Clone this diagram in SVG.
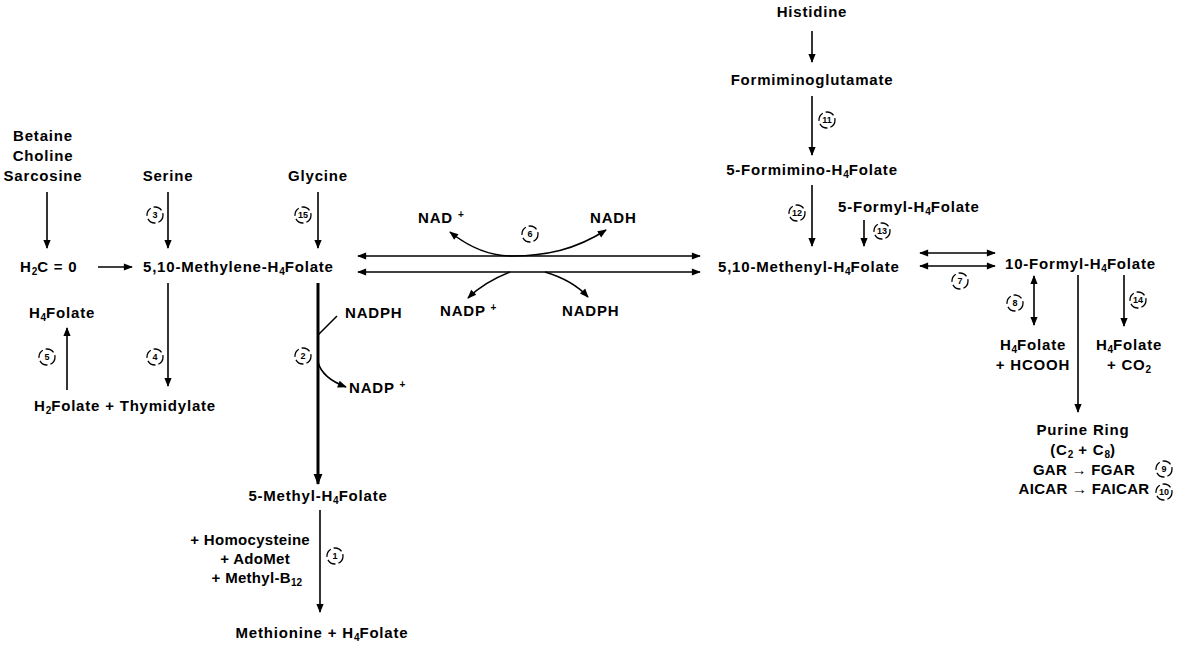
<svg xmlns="http://www.w3.org/2000/svg" width="1178" height="648" viewBox="0 0 1178 648">
<defs>
<marker id="ah" viewBox="0 0 10 10" refX="9" refY="5" markerWidth="10" markerHeight="9" markerUnits="userSpaceOnUse" orient="auto-start-reverse">
<path d="M0,1 L10,5 L0,9 Z" fill="#000"/>
</marker>
<marker id="ahb" viewBox="0 0 10 10" refX="9" refY="5" markerWidth="12" markerHeight="11" markerUnits="userSpaceOnUse" orient="auto-start-reverse">
<path d="M0,1 L10,5 L0,9 Z" fill="#000"/>
</marker>
</defs>
<style>
text{font-family:"Liberation Sans",Arial,sans-serif;font-weight:bold;font-size:15px;letter-spacing:0.8px;fill:#000}
.m{text-anchor:middle}
.e{text-anchor:end}
.t{letter-spacing:0.3px}
.s{font-size:10px;letter-spacing:0}
.c{font-size:9px;letter-spacing:0;text-anchor:middle}
.cir{fill:none;stroke:#000;stroke-width:1.3;stroke-dasharray:9 3}
.ln{fill:none;stroke:#000;stroke-width:1.6}
.tk{fill:none;stroke:#000;stroke-width:3}
</style>
<rect width="1178" height="648" fill="#fff"/>

<g id="connectors">
<line class="ln" x1="47" y1="192" x2="47" y2="248" marker-end="url(#ah)"/>
<line class="ln" x1="168" y1="192" x2="168" y2="248" marker-end="url(#ah)"/>
<line class="ln" x1="318" y1="192" x2="318" y2="248" marker-end="url(#ah)"/>
<line class="ln" x1="98" y1="267" x2="132" y2="267" marker-end="url(#ah)"/>
<line class="ln" x1="168" y1="283" x2="168" y2="386" marker-end="url(#ah)"/>
<line class="ln" x1="67" y1="390" x2="67" y2="328" marker-end="url(#ah)"/>
<line class="tk" x1="318" y1="283" x2="318" y2="484" marker-end="url(#ahb)"/>
<line class="ln" x1="318" y1="335" x2="337" y2="316"/>
<path class="ln" d="M318,362 Q322,378 346,387" marker-end="url(#ah)"/>
<line class="ln" x1="320" y1="510" x2="320" y2="612" marker-end="url(#ah)"/>
<line class="ln" x1="358" y1="256" x2="700" y2="256" marker-start="url(#ah)" marker-end="url(#ah)"/>
<line class="ln" x1="358" y1="272" x2="700" y2="272" marker-start="url(#ah)" marker-end="url(#ah)"/>
<path class="ln" d="M512,256 C490,256 470,248 450,232" marker-end="url(#ah)"/>
<path class="ln" d="M512,256 C545,256 575,250 606,230" marker-end="url(#ah)"/>
<path class="ln" d="M510,272 C495,278 480,286 468,298" marker-end="url(#ah)"/>
<path class="ln" d="M545,272 C565,278 578,286 588,297" marker-end="url(#ah)"/>
<line class="ln" x1="812" y1="31" x2="812" y2="62" marker-end="url(#ah)"/>
<line class="ln" x1="812" y1="96" x2="812" y2="155" marker-end="url(#ah)"/>
<line class="ln" x1="812" y1="185" x2="812" y2="246" marker-end="url(#ah)"/>
<line class="ln" x1="864" y1="220" x2="864" y2="246" marker-end="url(#ah)"/>
<line class="ln" x1="920" y1="253" x2="995" y2="253" marker-start="url(#ah)" marker-end="url(#ah)"/>
<line class="ln" x1="920" y1="266" x2="995" y2="266" marker-start="url(#ah)" marker-end="url(#ah)"/>
<line class="ln" x1="1034" y1="276" x2="1034" y2="325" marker-start="url(#ah)" marker-end="url(#ah)"/>
<line class="ln" x1="1078" y1="275" x2="1078" y2="412" marker-end="url(#ah)"/>
<line class="ln" x1="1124" y1="275" x2="1124" y2="326" marker-end="url(#ah)"/>
</g>

<g id="n-betaine"><text class="m" x="43" y="141">Betaine</text><text class="m" x="43" y="161">Choline</text><text class="m" x="43" y="181">Sarcosine</text></g>
<g id="n-serine"><text class="m" x="168" y="181">Serine</text></g>
<g id="n-glycine"><text class="m" x="318" y="181">Glycine</text></g>
<g id="n-h2co"><text x="20" y="272">H<tspan class="s" dy="3">2</tspan><tspan dy="-3">C = 0</tspan></text></g>
<g id="n-methylene"><text x="143" y="272">5,10-Methylene-H<tspan class="s" dy="3">4</tspan><tspan dy="-3">Folate</tspan></text></g>
<g id="n-h4folate-left"><text class="m" x="62" y="318">H<tspan class="s" dy="3">4</tspan><tspan dy="-3">Folate</tspan></text></g>
<g id="n-h2folate"><text class="m" x="125" y="411">H<tspan class="s" dy="3">2</tspan><tspan dy="-3">Folate + Thymidylate</tspan></text></g>
<g id="n-nadph-2"><text x="345" y="318">NADPH</text></g>
<g id="n-nadp-2"><text x="349" y="393">NADP <tspan class="s" dy="-5">+</tspan></text></g>
<g id="n-methyl"><text class="m" x="318" y="501">5-Methyl-H<tspan class="s" dy="3">4</tspan><tspan dy="-3">Folate</tspan></text></g>
<g id="n-cofactors"><text class="e t" x="310" y="545">+ Homocysteine</text><text class="e t" x="290" y="564">+ AdoMet</text><text class="e t" x="302" y="583">+ Methyl-B<tspan class="s" dy="3">12</tspan></text></g>
<g id="n-methionine"><text class="m" x="322" y="638">Methionine  +  H<tspan class="s" dy="3">4</tspan><tspan dy="-3">Folate</tspan></text></g>
<g id="n-nad"><text x="418" y="223">NAD <tspan class="s" dy="-5">+</tspan></text></g>
<g id="n-nadh"><text x="590" y="223">NADH</text></g>
<g id="n-nadp"><text x="440" y="316">NADP <tspan class="s" dy="-5">+</tspan></text></g>
<g id="n-nadph"><text x="562" y="316">NADPH</text></g>
<g id="n-histidine"><text class="m" x="812" y="17">Histidine</text></g>
<g id="n-formimino-glu"><text class="m" x="812" y="85">Formiminoglutamate</text></g>
<g id="n-formimino"><text class="m" x="812" y="175">5-Formimino-H<tspan class="s" dy="3">4</tspan><tspan dy="-3">Folate</tspan></text></g>
<g id="n-formyl5"><text x="838" y="212">5-Formyl-H<tspan class="s" dy="3">4</tspan><tspan dy="-3">Folate</tspan></text></g>
<g id="n-methenyl"><text x="718" y="272">5,10-Methenyl-H<tspan class="s" dy="3">4</tspan><tspan dy="-3">Folate</tspan></text></g>
<g id="n-formyl10"><text x="1005" y="269">10-Formyl-H<tspan class="s" dy="3">4</tspan><tspan dy="-3">Folate</tspan></text></g>
<g id="n-hcooh"><text class="m" x="1033" y="350">H<tspan class="s" dy="3">4</tspan><tspan dy="-3">Folate</tspan></text><text class="m" x="1033" y="370">+ HCOOH</text></g>
<g id="n-co2"><text class="m" x="1129" y="350">H<tspan class="s" dy="3">4</tspan><tspan dy="-3">Folate</tspan></text><text class="m" x="1129" y="370">+ CO<tspan class="s" dy="3">2</tspan></text></g>
<g id="n-purine"><text class="m" x="1083" y="435">Purine Ring</text><text class="m" x="1083" y="455">(C<tspan class="s" dy="3">2</tspan><tspan dy="-3"> + C</tspan><tspan class="s" dy="3">8</tspan><tspan dy="-3">)</tspan></text><text class="m t" x="1084" y="475">GAR → FGAR</text><text class="m t" x="1084" y="494">AICAR → FAICAR</text></g>

<g id="enzymes">
<circle class="cir" cx="155" cy="215" r="8"/><text class="c" x="155" y="218">3</text>
<circle class="cir" cx="303" cy="215" r="8"/><text class="c" x="303" y="218">15</text>
<circle class="cir" cx="47" cy="357" r="8"/><text class="c" x="47" y="360">5</text>
<circle class="cir" cx="155" cy="357" r="8"/><text class="c" x="155" y="360">4</text>
<circle class="cir" cx="303" cy="356" r="8"/><text class="c" x="303" y="359">2</text>
<circle class="cir" cx="335" cy="556" r="8"/><text class="c" x="335" y="559">1</text>
<circle class="cir" cx="530" cy="234" r="8"/><text class="c" x="530" y="237">6</text>
<circle class="cir" cx="827" cy="120" r="8"/><text class="c" x="827" y="123">11</text>
<circle class="cir" cx="797" cy="213" r="8"/><text class="c" x="797" y="216">12</text>
<circle class="cir" cx="882" cy="231" r="8"/><text class="c" x="882" y="234">13</text>
<circle class="cir" cx="960" cy="281" r="8"/><text class="c" x="960" y="284">7</text>
<circle class="cir" cx="1015" cy="303" r="8"/><text class="c" x="1015" y="306">8</text>
<circle class="cir" cx="1138" cy="300" r="8"/><text class="c" x="1138" y="303">14</text>
<circle class="cir" cx="1164" cy="469" r="8"/><text class="c" x="1164" y="472">9</text>
<circle class="cir" cx="1164" cy="492" r="8"/><text class="c" x="1164" y="495">10</text>
</g>
</svg>
